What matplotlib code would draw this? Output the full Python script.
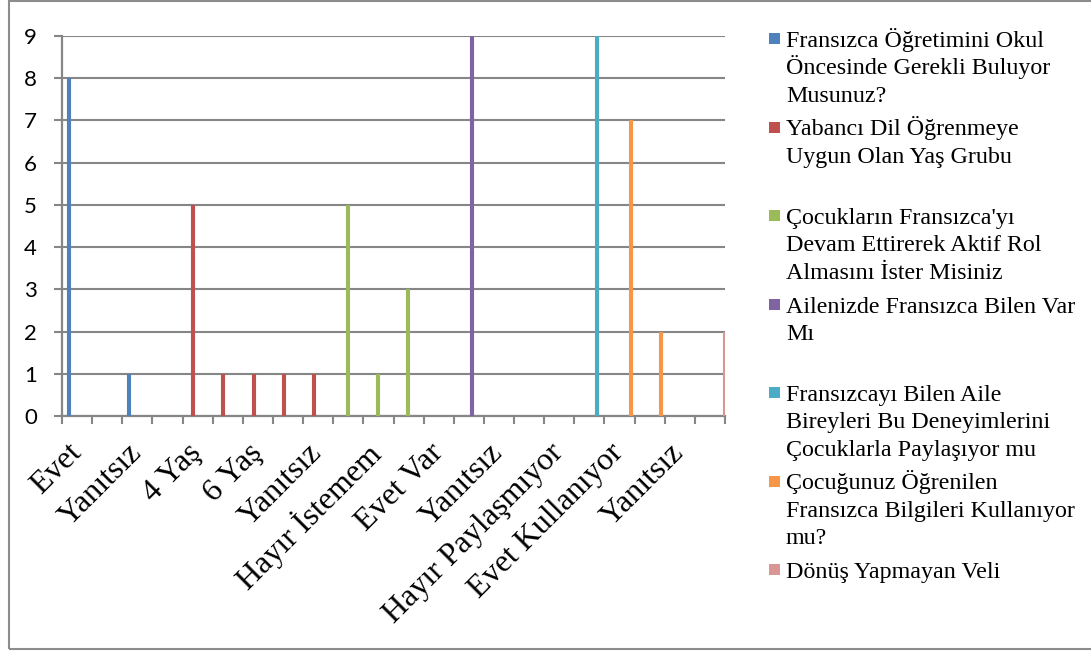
import matplotlib
matplotlib.use("Agg")
import matplotlib.pyplot as plt
import matplotlib.transforms as mtrans
from matplotlib.patches import Rectangle

# answer categories, in the order they sit on the x axis
categories = [
    "Evet", "Hayır", "Yanıtsız",
    "3 Yaş", "4 Yaş", "5 Yaş", "6 Yaş", "7 Yaş", "Yanıtsız",
    "Evet İsterim", "Hayır İstemem", "Yanıtsız",
    "Evet Var", "Hayır Yok", "Yanıtsız",
    "Evet Paylaşıyor", "Hayır Paylaşmıyor", "Yanıtsız",
    "Evet Kullanıyor", "Hayır Kullanmıyor", "Yanıtsız",
    "Dönüş Yapmayan Veli",
]
# number of parents per category
counts = [8, 0, 1,
          0, 5, 1, 1, 1, 1,
          5, 1, 3,
          0, 9, 0,
          0, 0, 9,
          7, 2, 0,
          2]
# which question (series) each category belongs to
question_of = [0, 0, 0,
               1, 1, 1, 1, 1, 1,
               2, 2, 2,
               3, 3, 3,
               4, 4, 4,
               5, 5, 5,
               6]

questions = [
    "Fransızca Öğretimini Okul\nÖncesinde Gerekli Buluyor\nMusunuz?",
    "Yabancı Dil Öğrenmeye\nUygun Olan Yaş Grubu",
    "Çocukların Fransızca'yı\nDevam Ettirerek Aktif Rol\nAlmasını İster Misiniz",
    "Ailenizde Fransızca Bilen Var\nMı",
    "Fransızcayı Bilen Aile\nBireyleri Bu Deneyimlerini\nÇocuklarla Paylaşıyor mu",
    "Çocuğunuz Öğrenilen\nFransızca Bilgileri Kullanıyor\nmu?",
    "Dönüş Yapmayan Veli",
]
colors = ["#4F81BD", "#C0504D", "#9BBB59", "#8064A2",
          "#4BACC6", "#F79646", "#D99694"]

W, H = 1091, 651
DPI = 100
GRAY = "#868686"
SERIF = ["Liberation Serif", "DejaVu Serif"]

fig = plt.figure(figsize=(W / DPI, H / DPI), dpi=DPI)
ax = fig.add_axes([62 / W, 1 - 416 / H, 663 / W, 380 / H])

# clustered layout: 7 slots per category, only one filled per category
bar_w = 0.10
for q, color in enumerate(colors):
    xs = [i + 0.098 + (q - 3) * 0.129 for i, g in enumerate(question_of) if g == q]
    ys = [counts[i] for i, g in enumerate(question_of) if g == q]
    ax.bar(xs, ys, width=bar_w, color=color, edgecolor=color,
           linewidth=0.8, zorder=3)

ax.set_xlim(-0.5, len(categories) - 0.5)
ax.set_ylim(0, 9)
ax.set_yticks(range(10))
ax.yaxis.grid(True, color=GRAY, linewidth=1.5, zorder=0)
ax.set_axisbelow(True)

for side in ("top", "right"):
    ax.spines[side].set_visible(False)
for side in ("left", "bottom"):
    ax.spines[side].set_color(GRAY)
    ax.spines[side].set_linewidth(1.6)

ax.tick_params(axis="y", length=6, width=1.5, color=GRAY, pad=12,
               labelsize=16, labelcolor="black")
for lbl in ax.get_yticklabels():
    lbl.set_fontfamily(["Lato", "DejaVu Sans"])

# ticks mark the category boundaries
ax.set_xticks([i - 0.5 for i in range(len(categories) + 1)])
ax.set_xticklabels([])
ax.tick_params(axis="x", length=6, width=1.5, color=GRAY)

# every other category is labelled, rotated like the spreadsheet axis
label_tf = ax.get_xaxis_transform() + mtrans.ScaledTranslation(
    10 / DPI, -22 / DPI, fig.dpi_scale_trans)
for i, name in enumerate(categories):
    if i % 2 == 0:
        ax.text(i, 0, name, transform=label_tf, rotation=45,
                ha="right", va="top", fontsize=23, family=SERIF)

# legend on the right, one slot per question, one text per wrapped line
line_step = 27.3
for q, (name, color) in enumerate(zip(questions, colors)):
    base = 47 + q * 88.5
    fig.patches.append(Rectangle((769 / W, 1 - (base - 3) / H), 11 / W, 11 / H,
                                 transform=fig.transFigure, facecolor=color,
                                 edgecolor="none"))
    for k, line in enumerate(name.split("\n")):
        fig.text(786 / W, 1 - (base + k * line_step) / H, line,
                 ha="left", va="baseline", fontsize=17.3, family=SERIF)

# chart frame
fig.patches.append(Rectangle((9 / W, 1 - 649 / H), 1.1, 648 / H,
                             transform=fig.transFigure, facecolor="none",
                             edgecolor="#8c8c8c", linewidth=1.5))

fig.savefig("out.png", dpi=DPI)
